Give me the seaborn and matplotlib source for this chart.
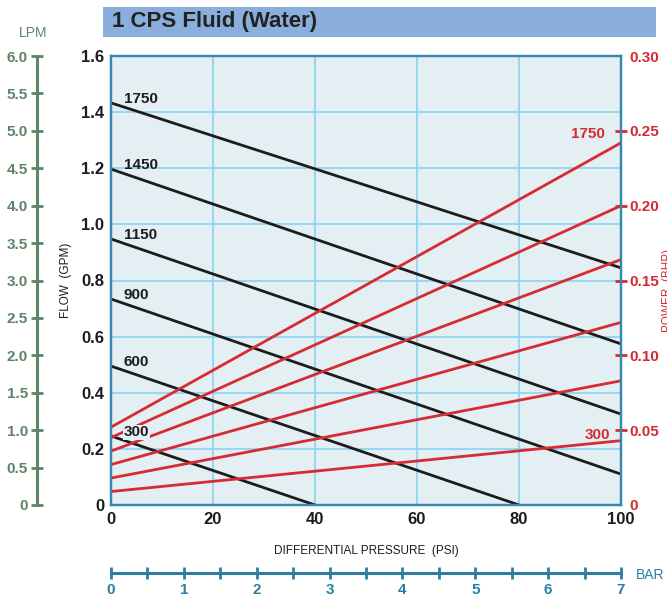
import pandas as pd
import seaborn as sns
import matplotlib.pyplot as plt
from matplotlib import font_manager as fm
from matplotlib.patches import Rectangle

# pump speeds (RPM) and read-off curve end points
speeds = [1750, 1450, 1150, 900, 600, 300]
flow_start = [1.433, 1.197, 0.948, 0.734, 0.495, 0.246]   # GPM at 0 PSI
flow_end_psi = [100, 100, 100, 100, 80, 40]
flow_end = [0.845, 0.574, 0.324, 0.110, 0.0, 0.0]
power_start = [0.052, 0.045, 0.036, 0.027, 0.018, 0.009]  # BHP at 0 PSI
power_end = [0.242, 0.200, 0.164, 0.122, 0.083, 0.043]    # BHP at 100 PSI

psi_ticks = [0, 20, 40, 60, 80, 100]
gpm_ticks = [0, 0.2, 0.4, 0.6, 0.8, 1.0, 1.2, 1.4, 1.6]
gpm_labels = ['0', '0.2', '0.4', '0.6', '0.8', '1.0', '1.2', '1.4', '1.6']
bhp_ticks = [0, 0.05, 0.10, 0.15, 0.20, 0.25, 0.30]
bhp_labels = ['0', '0.05', '0.10', '0.15', '0.20', '0.25', '0.30']
lpm_ticks = [0, 0.5, 1.0, 1.5, 2.0, 2.5, 3.0, 3.5, 4.0, 4.5, 5.0, 5.5, 6.0]
lpm_labels = ['0', '0.5', '1.0', '1.5', '2.0', '2.5', '3.0', '3.5', '4.0', '4.5', '5.0', '5.5', '6.0']
bar_ticks = [0, 1, 2, 3, 4, 5, 6, 7]
bar_minor = [0.5, 1.5, 2.5, 3.5, 4.5, 5.5, 6.5]

flow_df = pd.DataFrame({'speed': speeds * 2,
                        'psi': [0] * len(speeds) + flow_end_psi,
                        'gpm': flow_start + flow_end})
power_df = pd.DataFrame({'speed': speeds * 2,
                         'psi': [0] * len(speeds) + [100] * len(speeds),
                         'bhp': power_start + power_end})

sns.set_theme(style="white")
plt.rcParams['font.family'] = ['Liberation Sans', 'DejaVu Sans']


def num_font(size):
    # no condensed face installed, so a narrow-ish bold sans stands in
    return fm.FontProperties(family=['Liberation Sans', 'DejaVu Sans'],
                             weight='bold', size=size)


BLACK = '#1c1c1c'
RED = '#d52b33'
GREEN = '#5f8466'
TEAL = '#2b7fa3'
FRAME = '#3189b0'
GRID = '#8ad2f1'
BG = '#e4eff4'

W, H = 667, 599
fig = plt.figure(figsize=(W / 100, H / 100), dpi=100)


def fx(px):
    return px / W


def fy(py):
    return 1 - py / H


left, right, top, bottom = 111, 621, 56, 505
ax = fig.add_axes([fx(left), fy(bottom), fx(right - left), (bottom - top) / H])
ax.set_facecolor(BG)

sns.lineplot(data=flow_df, x='psi', y='gpm', units='speed', estimator=None,
             color=BLACK, lw=2, ax=ax)
ax.set_xlim(0, 100)
ax.set_ylim(0, 1.6)
ax.set_xticks(psi_ticks)
ax.set_xticklabels([str(t) for t in psi_ticks], fontproperties=num_font(12), color=BLACK)
ax.set_yticks(gpm_ticks)
ax.set_yticklabels(gpm_labels, fontproperties=num_font(12), color=BLACK)
ax.tick_params(axis='both', length=0, pad=5)
ax.grid(True, color=GRID, lw=1.2)
ax.set_axisbelow(True)
ax.set_xlabel('DIFFERENTIAL PRESSURE  (PSI)', fontsize=8.5, color=BLACK)
ax.set_ylabel('FLOW  (GPM)', fontsize=8.5, color=BLACK)
ax.xaxis.set_label_coords(0.5, -0.089)
ax.yaxis.set_label_coords(-0.077, 0.5)
for s in ax.spines.values():
    s.set_color(FRAME)
    s.set_linewidth(1.6)

ax2 = ax.twinx()
sns.lineplot(data=power_df, x='psi', y='bhp', units='speed', estimator=None,
             color=RED, lw=2, ax=ax2)
ax2.set_ylim(0, 0.30)
ax2.set_yticks(bhp_ticks)
ax2.set_yticklabels(bhp_labels, fontproperties=num_font(11), color=RED)
ax2.set_ylabel('')
ax2.tick_params(axis='y', right=True, direction='inout', length=9, width=2,
                color=RED, pad=1.5)
for i, t in enumerate(ax2.yaxis.get_major_ticks()):
    if i in (0, len(bhp_ticks) - 1):
        t.tick2line.set_visible(False)
for s in ax2.spines.values():
    s.set_color(FRAME)
    s.set_linewidth(1.6)

# speed labels on the flow curves (drawn on top so the 300 box hides red lines)
for spd, f0 in zip(speeds, flow_start):
    ax2.text(2.5, f0 + 0.013, str(spd), transform=ax.transData, ha='left', va='center',
             fontsize=11, weight='bold', color=BLACK,
             bbox=dict(facecolor=BG, edgecolor='none', pad=0.5) if spd == 300 else None)
ax2.text(93.5, 0.248, '1750', ha='center', va='center', fontsize=11, weight='bold', color=RED)
ax2.text(95.3, 0.047, '300', ha='center', va='center', fontsize=11, weight='bold', color=RED)

fig.text(fx(668), fy(290), 'POWER  (BHP)', rotation=90, ha='center', va='center',
         fontsize=8.5, color=RED)

# LPM scale on the far left
axl = fig.add_axes([fx(37), fy(bottom), 0.0001, (bottom - top) / H])
axl.set_ylim(0, 6.0)
axl.set_yticks(lpm_ticks)
axl.set_yticklabels(lpm_labels, fontproperties=num_font(11), color=GREEN)
axl.set_xticks([])
axl.tick_params(axis='y', left=True, direction='inout', length=9, width=2,
                color=GREEN, pad=2)
for k, s in axl.spines.items():
    s.set_visible(k == 'left')
axl.spines['left'].set_color(GREEN)
axl.spines['left'].set_linewidth(2.2)
axl.patch.set_alpha(0)
fig.text(fx(33), fy(33), 'LPM', ha='center', va='center', fontsize=10, color=GREEN)

# BAR scale at the bottom
axb = fig.add_axes([fx(left), fy(573), fx(right - left), 0.0001])
axb.set_xlim(0, 7)
axb.set_xticks(bar_ticks)
axb.set_xticks(bar_minor, minor=True)
axb.set_xticklabels([str(t) for t in bar_ticks], fontproperties=num_font(11), color=TEAL)
axb.set_yticks([])
axb.tick_params(axis='x', which='both', bottom=True, direction='inout', length=9,
                width=2, color=TEAL, pad=3)
for k, s in axb.spines.items():
    s.set_visible(k == 'bottom')
axb.spines['bottom'].set_color(TEAL)
axb.spines['bottom'].set_linewidth(2.2)
axb.patch.set_alpha(0)
fig.text(fx(650), fy(575), 'BAR', ha='center', va='center', fontsize=10, color=TEAL)

# title bar
fig.patches.append(Rectangle((fx(103), fy(37)), fx(656 - 103), (37 - 7) / H,
                             transform=fig.transFigure, facecolor='#8aafdc',
                             edgecolor='none', zorder=0))
fig.text(fx(112), fy(22), '1 CPS Fluid (Water)', ha='left', va='center',
         fontsize=16, weight='bold', color='#222222')

fig.savefig('out.png', dpi=100)
